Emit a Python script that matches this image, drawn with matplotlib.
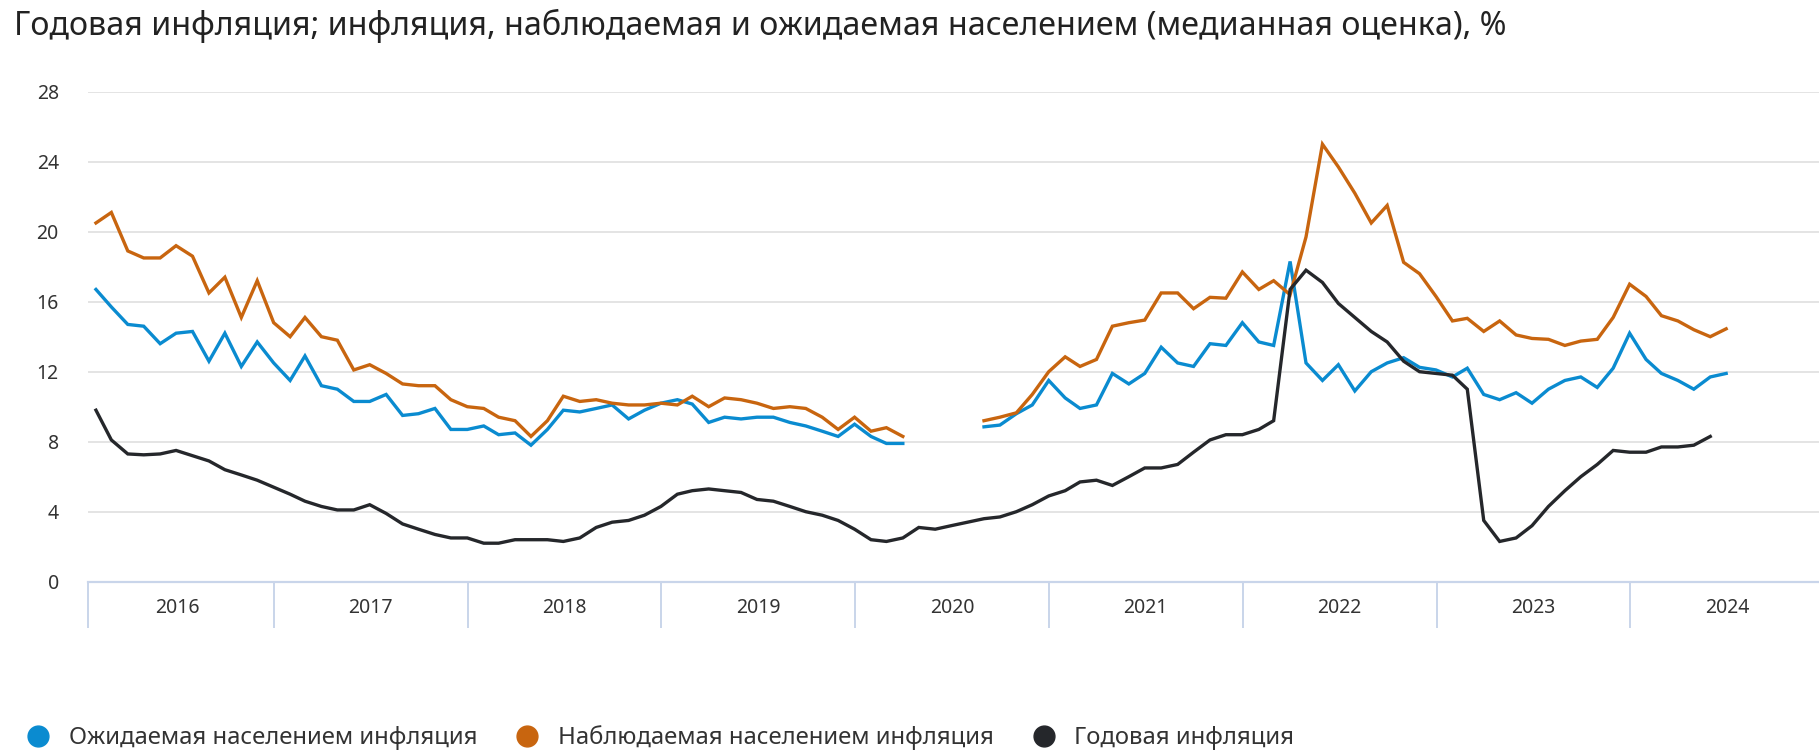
import numpy as np
import pandas as pd
import matplotlib
matplotlib.use("Agg")
from matplotlib import pyplot as plt
from matplotlib.lines import Line2D

plt.rcParams['font.family'] = ['Noto Sans', 'DejaVu Sans']

# monthly data, Jan 2016 .. Jun 2024 (month-end points)
dates = pd.date_range('2016-01-31', periods=102, freq='ME')

expected = [16.7, 15.7, 14.7, 14.6, 13.6, 14.2, 14.3, 12.6, 14.2, 12.3, 13.7, 12.5,
            11.5, 12.9, 11.2, 11.0, 10.3, 10.3, 10.7, 9.5, 9.6, 9.9, 8.7, 8.7,
            8.9, 8.4, 8.5, 7.8, 8.7, 9.8, 9.7, 9.9, 10.1, 9.3, 9.8, 10.2,
            10.4, 10.15, 9.1, 9.4, 9.3, 9.4, 9.4, 9.1, 8.9, 8.6, 8.3, 9.0,
            8.3, 7.9, 7.9, np.nan, np.nan, np.nan, np.nan, 8.85, 8.95, 9.6, 10.1, 11.5,
            10.5, 9.9, 10.1, 11.9, 11.3, 11.9, 13.4, 12.5, 12.3, 13.6, 13.5, 14.8,
            13.7, 13.5, 18.3, 12.5, 11.5, 12.4, 10.9, 12.0, 12.5, 12.8, 12.25, 12.1,
            11.7, 12.2, 10.7, 10.4, 10.8, 10.2, 11.0, 11.5, 11.7, 11.1, 12.2, 14.2,
            12.7, 11.9, 11.5, 11.0, 11.7, 11.9]

observed = [20.5, 21.1, 18.9, 18.5, 18.5, 19.2, 18.6, 16.5, 17.4, 15.1, 17.2, 14.8,
            14.0, 15.1, 14.0, 13.8, 12.1, 12.4, 11.9, 11.3, 11.2, 11.2, 10.4, 10.0,
            9.9, 9.4, 9.2, 8.3, 9.2, 10.6, 10.3, 10.4, 10.2, 10.1, 10.1, 10.2,
            10.1, 10.6, 10.0, 10.5, 10.4, 10.2, 9.9, 10.0, 9.9, 9.4, 8.7, 9.4,
            8.6, 8.8, 8.3, np.nan, np.nan, np.nan, np.nan, 9.2, 9.4, 9.65, 10.7, 12.0,
            12.85, 12.3, 12.7, 14.6, 14.8, 14.95, 16.5, 16.5, 15.6, 16.25, 16.2, 17.7,
            16.7, 17.2, 16.4, 19.7, 25.0, 23.7, 22.2, 20.5, 21.5, 18.25, 17.6, 16.3,
            14.9, 15.05, 14.3, 14.9, 14.1, 13.9, 13.85, 13.5, 13.75, 13.85, 15.1, 17.0,
            16.3, 15.2, 14.9, 14.4, 14.0, 14.45]

annual = [9.8, 8.1, 7.3, 7.25, 7.3, 7.5, 7.2, 6.9, 6.4, 6.1, 5.8, 5.4,
          5.0, 4.6, 4.3, 4.1, 4.1, 4.4, 3.9, 3.3, 3.0, 2.7, 2.5, 2.5,
          2.2, 2.2, 2.4, 2.4, 2.4, 2.3, 2.5, 3.1, 3.4, 3.5, 3.8, 4.3,
          5.0, 5.2, 5.3, 5.2, 5.1, 4.7, 4.6, 4.3, 4.0, 3.8, 3.5, 3.0,
          2.4, 2.3, 2.5, 3.1, 3.0, 3.2, 3.4, 3.6, 3.7, 4.0, 4.4, 4.9,
          5.2, 5.7, 5.8, 5.5, 6.0, 6.5, 6.5, 6.7, 7.4, 8.1, 8.4, 8.4,
          8.7, 9.2, 16.7, 17.8, 17.1, 15.9, 15.1, 14.3, 13.7, 12.6, 12.0, 11.9,
          11.8, 11.0, 3.5, 2.3, 2.5, 3.2, 4.3, 5.2, 6.0, 6.7, 7.5, 7.4,
          7.4, 7.7, 7.7, 7.8, 8.3, np.nan]

years = list(range(2016, 2025))
yticks = [0, 4, 8, 12, 16, 20, 24, 28]

labels = ['Ожидаемая населением инфляция', 'Наблюдаемая населением инфляция', 'Годовая инфляция']
colors = ['#0a8bd0', '#c8650f', '#25272b']

W, H = 1819, 754
fig = plt.figure(figsize=(W / 100, H / 100), dpi=100)
ax = fig.add_axes([88 / W, (H - 581.7) / H, (W - 88) / W, 490 / H])

for series, c in zip([expected, observed, annual], colors):
    ax.plot(dates, series, color=c, lw=2.4, solid_joinstyle='miter', zorder=3)

ax.set_ylim(0, 28)
ax.set_yticks(yticks)
ax.yaxis.grid(True, color='#e4e4e4', lw=1.4)
ax.tick_params(axis='y', length=0, pad=21, labelsize=14, labelcolor='#333333')

ax.set_xlim(pd.Timestamp('2016-01-16'), pd.Timestamp('2024-12-22'))
ax.set_xticks([pd.Timestamp(f'{y}-07-02') for y in years])
ax.set_xticklabels([str(y) for y in years])
ax.set_xticks([pd.Timestamp('2016-01-16')] + [pd.Timestamp(f'{y}-01-01') for y in years[1:]], minor=True)
ax.tick_params(axis='x', which='major', length=0, pad=12, labelsize=14, labelcolor='#333333')
ax.tick_params(axis='x', which='minor', length=33, width=1.4, color='#c9d5ea')

for s in ['top', 'right', 'left']:
    ax.spines[s].set_visible(False)
ax.spines['bottom'].set_color('#c9d5ea')
ax.spines['bottom'].set_linewidth(1.6)
ax.set_axisbelow(True)

fig.text(14 / W, 1 - 26 / H,
         'Годовая инфляция; инфляция, наблюдаемая и ожидаемая населением (медианная оценка), %',
         fontsize=23.2, color='#222222', va='center', ha='left')

handles = [Line2D([], [], marker='o', ls='none', markersize=15, color=c) for c in colors]
fig.legend(handles, labels, loc='center left', bbox_to_anchor=(26 / W, 1 - 738 / H),
           ncol=3, frameon=False, fontsize=17.2, handletextpad=0.78, columnspacing=1.6,
           handlelength=1.0, borderpad=0, borderaxespad=0, labelcolor='#333333')

fig.savefig('out.png', dpi=100)
